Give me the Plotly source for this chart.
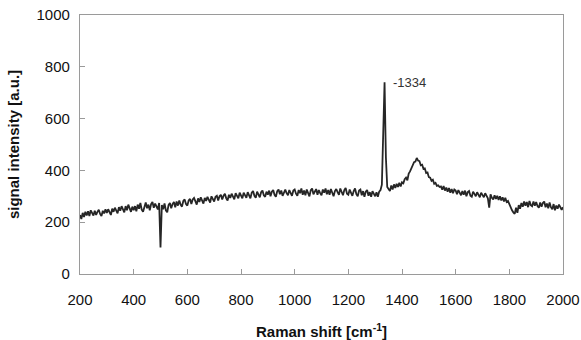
import plotly.graph_objects as go

# Raman shift grid (cm-1), 5 cm-1 step from 200 to 2000
raman_shift = list(range(200, 2001, 5))

# signal intensity, one row per 100 cm-1
intensity = [
    228, 212, 236, 220, 240, 226, 242, 224, 246, 232, 226, 244, 228, 240, 248, 232, 224, 244, 234, 250,  # 200
    236, 250, 238, 228, 252, 240, 256, 242, 234, 258, 244, 262, 246, 238, 262, 246, 268, 250, 240, 260,  # 300
    246, 262, 242, 268, 252, 274, 248, 240, 264, 276, 254, 268, 246, 270, 278, 256, 272, 258, 250, 274,  # 400
    102, 266, 250, 272, 246, 238, 266, 274, 254, 270, 278, 258, 280, 264, 284, 268, 260, 282, 288, 270,  # 500
    264, 284, 290, 270, 288, 294, 276, 268, 292, 278, 296, 280, 272, 294, 282, 298, 284, 276, 300, 286,  # 600
    280, 298, 302, 284, 300, 306, 288, 302, 310, 292, 284, 306, 294, 310, 296, 288, 312, 298, 292, 314,  # 700
    300, 292, 314, 302, 294, 316, 300, 292, 314, 320, 302, 294, 318, 304, 296, 316, 322, 304, 298, 318,  # 800
    306, 322, 300, 318, 324, 306, 298, 320, 326, 308, 322, 302, 318, 326, 312, 304, 324, 310, 302, 322,  # 900
    326, 310, 302, 324, 312, 330, 306, 322, 304, 326, 312, 300, 324, 330, 308, 322, 328, 306, 324, 312,  # 1000
    304, 326, 314, 330, 308, 324, 306, 328, 314, 300, 320, 328, 316, 306, 330, 314, 304, 324, 332, 310,  # 1100
    306, 326, 314, 302, 320, 330, 308, 300, 322, 326, 304, 320, 298, 318, 324, 302, 316, 298, 320, 306,  # 1200
    300, 316, 298, 318, 324, 345, 600, 740, 450, 336, 328, 320, 342, 326, 346, 332, 348, 336, 352, 338,  # 1300
    354, 350, 366, 372, 362, 388, 396, 410, 416, 432, 434, 448, 438, 436, 420, 422, 406, 408, 390, 392,  # 1400
    374, 372, 360, 364, 348, 352, 340, 342, 336, 338, 326, 340, 322, 334, 318, 332, 314, 328, 312, 326,  # 1500
    322, 308, 324, 310, 304, 320, 306, 322, 300, 316, 320, 302, 298, 318, 306, 300, 316, 302, 296, 314,  # 1600
    302, 296, 312, 298, 292, 256, 308, 294, 288, 304, 290, 302, 286, 300, 284, 296, 280, 294, 278, 282,  # 1700
    268, 258, 246, 238, 232, 256, 236, 266, 252, 274, 260, 280, 264, 278, 258, 282, 266, 262, 280, 264,  # 1800
    278, 262, 256, 276, 260, 274, 280, 258, 272, 254, 276, 258, 250, 270, 246, 264, 252, 268, 254, 248,  # 1900
    258,  # 2000
]

x_ticks = [200, 400, 600, 800, 1000, 1200, 1400, 1600, 1800, 2000]
y_ticks = [0, 200, 400, 600, 800, 1000]
peak_x = 1335
peak_y = 740
peak_label = "-1334"

fig = go.Figure()
fig.add_trace(go.Scatter(
    x=raman_shift, y=intensity, mode="lines",
    line=dict(color="#262626", width=1.8),
    showlegend=False, hoverinfo="skip",
))

fig.add_annotation(
    x=peak_x, y=peak_y, xref="x", yref="y", text=peak_label,
    showarrow=False, xanchor="left", yanchor="middle", xshift=6,
    font=dict(family="Liberation Sans, Arial", size=13, color="#333333"),
)

axis_common = dict(
    showgrid=False, zeroline=False, showline=True, mirror=True,
    linecolor="#9a9a9a", linewidth=1.2, automargin=False,
    ticklabeloverflow="allow",
    ticks="inside", ticklen=5, tickcolor="#9a9a9a", tickwidth=1,
    tickfont=dict(family="Liberation Sans, Arial", size=15, color="#111111"),
)

fig.update_layout(
    width=581, height=340,
    margin=dict(l=80, r=18, t=15, b=66),
    paper_bgcolor="white", plot_bgcolor="white",
    xaxis=dict(
        range=[200, 2000], tickvals=x_ticks,
        ticktext=[str(v) for v in x_ticks],
        ticklabelstandoff=12,
        title=dict(text="<b>Raman shift [cm<sup>-1</sup>]</b>", standoff=20,
                   font=dict(family="Liberation Sans, Arial", size=15, color="#111111")),
        **axis_common,
    ),
    yaxis=dict(
        range=[0, 1000], tickvals=y_ticks,
        ticktext=[str(v) for v in y_ticks],
        ticklabelstandoff=6,
        title=dict(text="<b>signal intensity [a.u.]</b>", standoff=13,
                   font=dict(family="Liberation Sans, Arial", size=15, color="#111111")),
        **axis_common,
    ),
)

# remove the browser's default 8 px page margin so the figure fills the window
fig.write_html("out.html",
               config={"displayModeBar": False},
               post_script="document.body.style.margin='0';document.body.style.overflow='hidden';")
